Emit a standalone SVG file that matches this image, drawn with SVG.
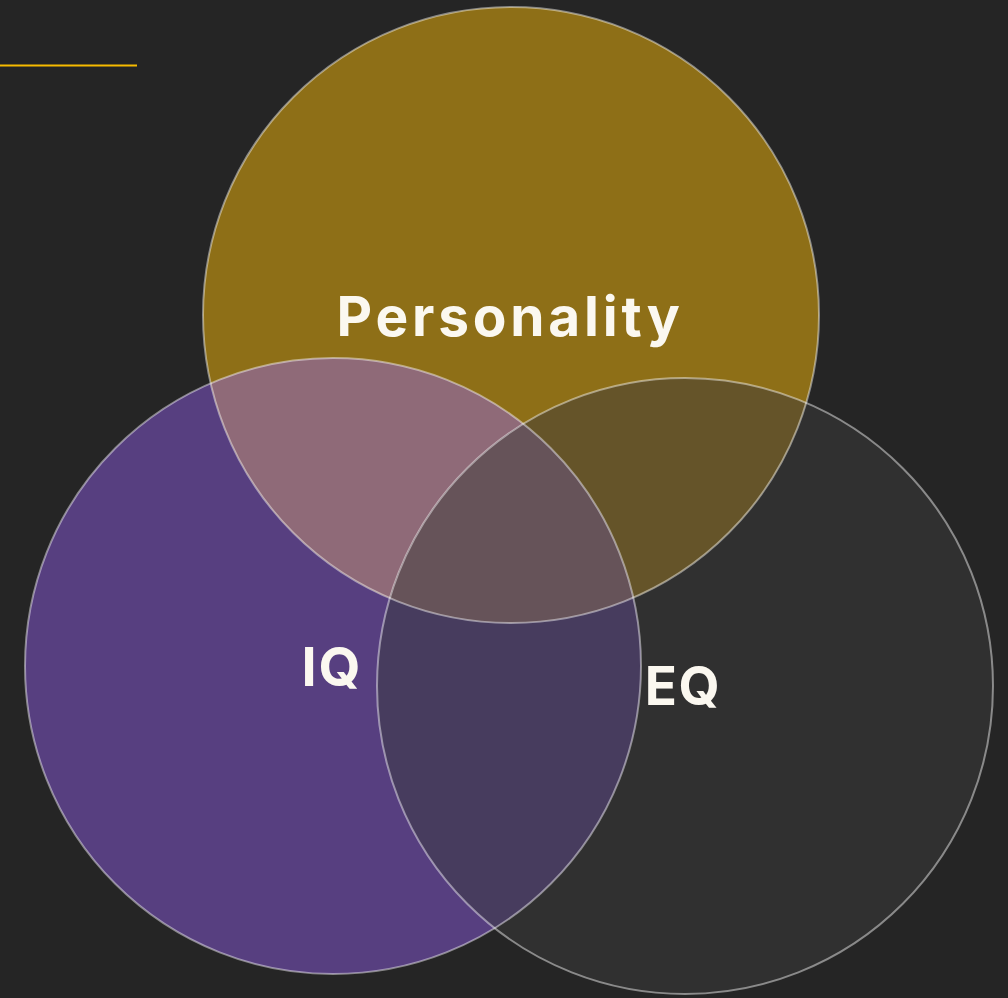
<svg xmlns="http://www.w3.org/2000/svg" width="1008" height="998" viewBox="0 0 1008 998">
  <defs>
    <clipPath id="clipP"><circle cx="511" cy="315" r="308"/></clipPath>
    <clipPath id="clipIQ"><circle cx="333" cy="666" r="308"/></clipPath>
    <clipPath id="clipEQ"><circle cx="685" cy="686" r="308"/></clipPath>
    <style>
      .lbl { font-family: Inter, "Noto Sans", "Liberation Sans", sans-serif; font-weight: 700; fill: #fbf8f0; text-anchor: middle; }
      .outline { fill: none; stroke: #ffffff; stroke-opacity: 0.45; stroke-width: 2; }
    </style>
  </defs>
  <rect x="0" y="0" width="1008" height="998" fill="#252525"/>
  <line x1="0" y1="65.5" x2="137" y2="65.5" stroke="#f7bb00" stroke-width="2"/>

  <g id="node-eq">
    <circle cx="685" cy="686" r="308" fill="#303030"/>
    <text class="lbl" x="683" y="705" font-size="53" letter-spacing="1.5">EQ</text>
  </g>
  <g id="node-iq">
    <circle cx="333" cy="666" r="308" fill="#573f80"/>
    <text class="lbl" x="332" y="686" font-size="54" letter-spacing="2">IQ</text>
  </g>
  <g id="node-personality">
    <circle cx="511" cy="315" r="308" fill="#8e6f17"/>
    <text class="lbl" x="510" y="336" font-size="55" letter-spacing="3.8">Personality</text>
  </g>

  <g id="overlaps">
    <g clip-path="url(#clipP)">
      <circle cx="333" cy="666" r="308" fill="#8f6a78"/>
      <circle cx="685" cy="686" r="308" fill="#655429"/>
    </g>
    <g clip-path="url(#clipIQ)">
      <circle cx="685" cy="686" r="308" fill="#473c5e"/>
      <g clip-path="url(#clipP)">
        <circle cx="685" cy="686" r="308" fill="#665359"/>
      </g>
    </g>
  </g>

  <g id="connectors">
    <circle class="outline" cx="511" cy="315" r="308"/>
    <circle class="outline" cx="333" cy="666" r="308"/>
    <circle class="outline" cx="685" cy="686" r="308"/>
  </g>
</svg>
